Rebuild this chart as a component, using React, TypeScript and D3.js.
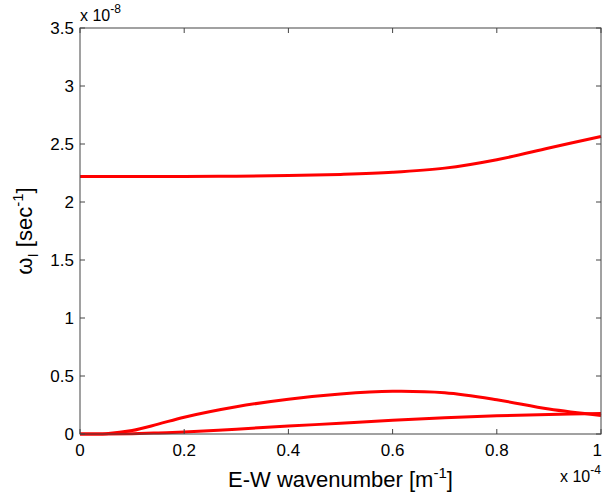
import React from "react";
import * as d3 from "d3";

const xValues = [0, 0.05, 0.1, 0.15, 0.2, 0.3, 0.4, 0.5, 0.6, 0.7, 0.8, 0.9, 1.0];
const upperBranch = [2.22, 2.22, 2.22, 2.22, 2.22, 2.222, 2.228, 2.238, 2.256, 2.292, 2.365, 2.465, 2.565];
const humpBranch = [0, 0.003, 0.03, 0.085, 0.145, 0.235, 0.3, 0.345, 0.368, 0.355, 0.295, 0.215, 0.16];
const lowerBranch = [0, 0.0005, 0.003, 0.009, 0.018, 0.042, 0.068, 0.093, 0.118, 0.14, 0.157, 0.169, 0.176];

const xTicks = [0, 0.2, 0.4, 0.6, 0.8, 1];
const yTicks = [0, 0.5, 1, 1.5, 2, 2.5, 3, 3.5];

const series = [upperBranch, humpBranch, lowerBranch];

export default function App() {
  const W = 603, H = 496;
  const left = 80, right = 601, top = 28, bottom = 434;
  const x = d3.scaleLinear().domain([0, 1]).range([left, right]);
  const y = d3.scaleLinear().domain([0, 3.5]).range([bottom, top]);
  const line = d3
    .line<number>()
    .x((_, i) => x(xValues[i]))
    .y((d) => y(d))
    .curve(d3.curveCatmullRom.alpha(0.5));
  const axisColor = "#444";
  const font = "Liberation Sans, Arial, Helvetica, sans-serif";
  const tl = 5;
  return (
    <svg
      width={W}
      height={H}
      style={{ position: "absolute", left: 0, top: 0, background: "#fff" }}
      fontFamily={font}
    >
      <rect x={0} y={0} width={W} height={H} fill="#fff" />
      <g>
        {series.map((s, k) => (
          <path key={k} d={line(s) || ""} fill="none" stroke="#ff0000" strokeWidth={3} strokeLinejoin="round" />
        ))}
      </g>
      <rect x={left} y={top} width={right - left} height={bottom - top} fill="none" stroke={axisColor} strokeWidth={1} />
      {xTicks.map((t) => (
        <g key={"x" + t}>
          <line x1={x(t)} x2={x(t)} y1={bottom} y2={bottom - tl} stroke={axisColor} />
          <line x1={x(t)} x2={x(t)} y1={top} y2={top + tl} stroke={axisColor} />
          <text
            x={t === 1 ? 602 : x(t)}
            y={456}
            fontSize={17}
            textAnchor={t === 1 ? "end" : "middle"}
            fill="#000"
          >
            {String(t)}
          </text>
        </g>
      ))}
      {yTicks.map((t) => (
        <g key={"y" + t}>
          <line x1={left} x2={left + tl} y1={y(t)} y2={y(t)} stroke={axisColor} />
          <line x1={right} x2={right - tl} y1={y(t)} y2={y(t)} stroke={axisColor} />
          <text x={74} y={y(t)} dy="0.36em" fontSize={17} textAnchor="end" fill="#000">
            {String(t)}
          </text>
        </g>
      ))}
      <text x={80} y={21} fontSize={16} fill="#000">
        x 10
        <tspan dy={-8} fontSize={12}>-8</tspan>
      </text>
      <text x={560} y={482} fontSize={16} fill="#000">
        x 10
        <tspan dy={-8} fontSize={12}>-4</tspan>
      </text>
      <text x={(left + right) / 2} y={487} fontSize={22} textAnchor="middle" fill="#000">
        E-W wavenumber [m
        <tspan dy={-9} fontSize={15}>-1</tspan>
        <tspan dy={9}>]</tspan>
      </text>
      <text transform={`translate(32, ${(top + bottom) / 2}) rotate(-90)`} fontSize={22} textAnchor="middle" fill="#000">
        ω
        <tspan dy={6} fontSize={15}>I</tspan>
        <tspan dy={-6}> [sec</tspan>
        <tspan dy={-9} fontSize={15}>-1</tspan>
        <tspan dy={9}>]</tspan>
      </text>
    </svg>
  );
}
